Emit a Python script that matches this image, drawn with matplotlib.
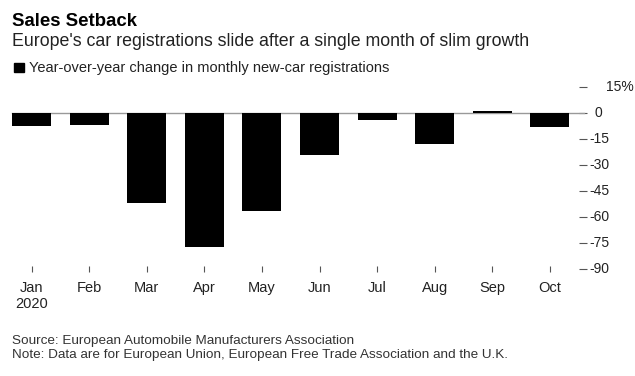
import matplotlib
matplotlib.use("Agg")
import matplotlib.pyplot as plt
import matplotlib.transforms as mtransforms
from matplotlib.patches import Rectangle

months = ["Jan", "Feb", "Mar", "Apr", "May", "Jun", "Jul", "Aug", "Sep", "Oct"]
values = [-7.4, -7.2, -51.8, -77.5, -56.8, -24.1, -3.9, -17.6, 1.1, -7.8]
yticks = [15, 0, -15, -30, -45, -60, -75, -90]
ytick_labels = ["15%", "0", "-15", "-30", "-45", "-60", "-75", "-90"]

title = "Sales Setback"
subtitle = "Europe's car registrations slide after a single month of slim growth"
legend_label = "Year-over-year change in monthly new-car registrations"
source = "Source: European Automobile Manufacturers Association"
note = "Note: Data are for European Union, European Free Trade Association and the U.K."

plt.rcParams['font.family'] = ['Liberation Sans', 'DejaVu Sans']

W, H = 635, 376
fig = plt.figure(figsize=(W / 100, H / 100), dpi=100)

def fx(px):
    return px / W

def fy(py):
    return 1 - py / H

ax = fig.add_axes([fx(2.7), fy(269), fx(576), 182 / H])
x = list(range(len(months)))
ax.bar(x, values, width=0.68, color='black', zorder=3)
ax.set_xlim(-0.5, len(months) - 0.5)
ax.set_ylim(-90, 15)
ax.axhline(0, xmin=0.016, xmax=1.009, color='#999999', lw=1.0, zorder=2, clip_on=False)

for s in ax.spines.values():
    s.set_visible(False)

ax.set_xticks(x)
xl = [m if i else m + "\n2020" for i, m in enumerate(months)]
ax.set_xticklabels(xl, fontsize=10.5, color='#222222', linespacing=1.2, va='top')
ax.tick_params(axis='x', length=5, width=0.8, color='#555555', pad=6, direction='inout')

ax.yaxis.tick_right()
ax.set_yticks(yticks)
ax.set_yticklabels([])
ax.tick_params(axis='y', length=6, width=0.8, color='#555555', pad=0, direction='out')

for v, lab in zip(yticks, ytick_labels):
    if v == 15:
        off = 27.5
    elif v == 0:
        off = 16
    else:
        off = 10.5
    tr = mtransforms.offset_copy(ax.get_yaxis_transform(), fig=fig, x=off * 72 / 100, y=0, units='points')
    ax.text(1.0, v, lab, transform=tr, ha='left', va='center', fontsize=10, color='#222222')

fig.text(fx(12), fy(26), title, fontsize=13.4, fontweight='bold', color='black', va='baseline')
fig.text(fx(12), fy(46), subtitle, fontsize=12.8, color='#222222', va='baseline')
fig.patches.append(Rectangle((fx(14), fy(72)), fx(10), 9.5 / H, transform=fig.transFigure, color='black'))
fig.text(fx(29), fy(72), legend_label, fontsize=10.5, color='#222222', va='baseline')
fig.text(fx(12), fy(344), source, fontsize=9.7, color='#333333', va='baseline')
fig.text(fx(12), fy(358), note, fontsize=9.7, color='#333333', va='baseline')

fig.savefig("out.png", dpi=100)
